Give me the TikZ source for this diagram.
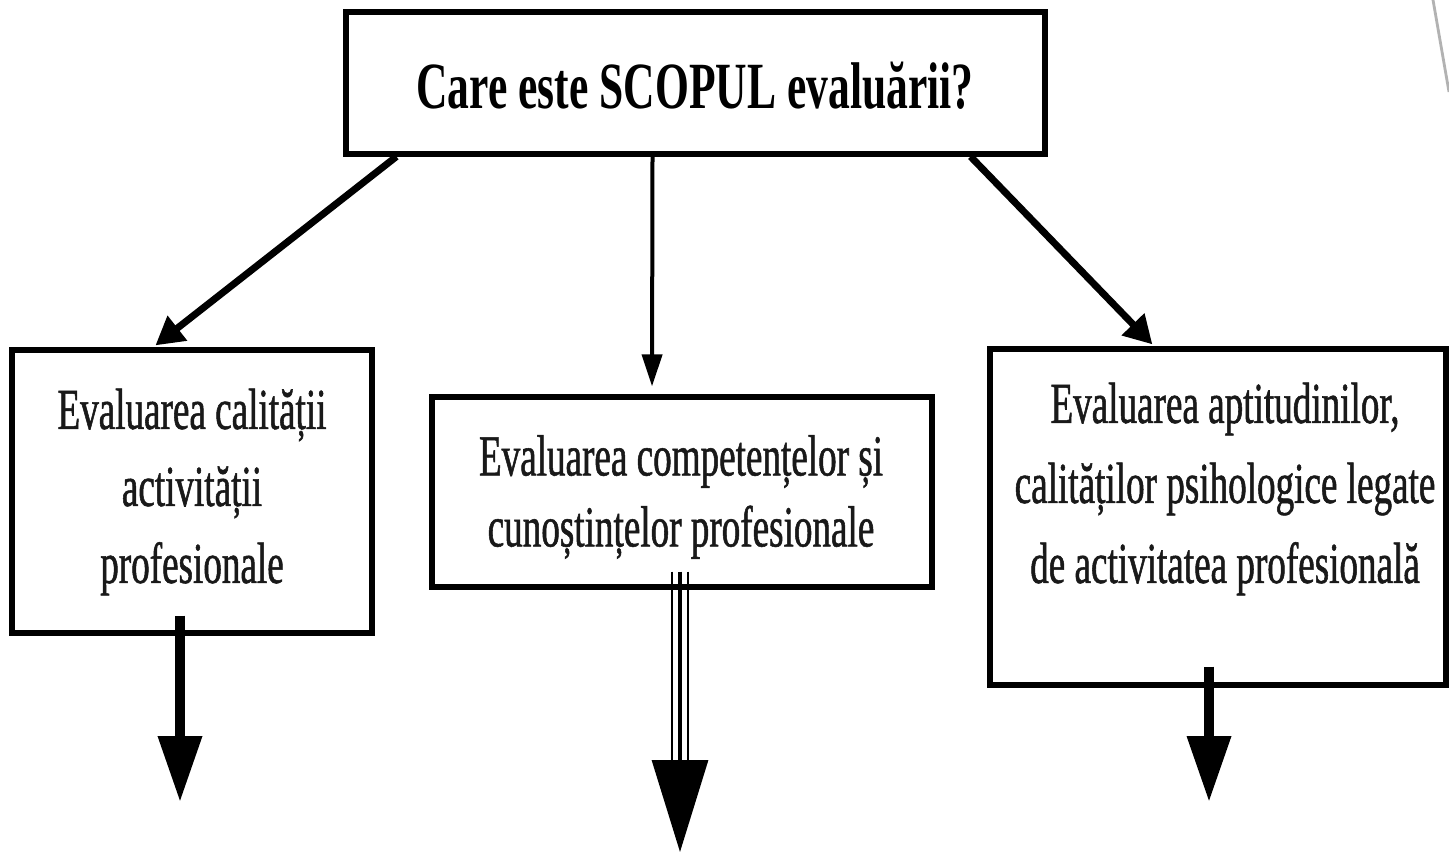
\documentclass[tikz,border=0pt]{standalone}
\usepackage{fontspec}
\setmainfont{Liberation Serif}
\newfontfamily\headfont[FakeStretch=0.66]{Liberation Serif}
\newfontfamily\bodyfont[FakeStretch=0.64, FakeBold=0.9]{Liberation Serif}
\usetikzlibrary{arrows.meta}

\tikzset{
  box/.style={draw=black, line width=2.6pt, inner sep=0pt, fill=white},
  label/.style={align=center, inner sep=0pt, text=black!90},
  link/.style={draw=black},
}

\begin{document}
\begin{tikzpicture}[x=0.5pt, y=-0.5pt]
\useasboundingbox (0,0) rectangle (1449,854);
\fill[white] (0,0) rectangle (1449,854);

% corner stroke
\draw[black!30, line width=1.4pt] (1433,0) -- (1449,92);

% frames
\node[box, minimum width=349.5pt, minimum height=71pt] (top) at (695.5,83) {};
\node[box, minimum width=180pt, minimum height=141.5pt] (left) at (192,491.5) {};
\node[box, minimum width=250pt, minimum height=95pt] (mid) at (682,492) {};
\node[box, minimum width=228pt, minimum height=168pt] (right) at (1218,517) {};

% texts
\node[label, font=\headfont\bfseries\fontsize{33}{36}\selectfont, text=black] (toptext) at (695,86)
  {Care este SCOPUL evaluării?};
\node[label, font=\bodyfont\fontsize{29}{38.5}\selectfont] (lefttext) at (192,492)
  {Evaluarea calității\\activității\\profesionale};
\node[label, font=\bodyfont\fontsize{29}{35.5}\selectfont] (midtext) at (681,497)
  {Evaluarea competențelor și\\cunoștințelor profesionale};
\node[label, font=\bodyfont\fontsize{29}{40}\selectfont] (righttext) at (1225,489)
  {Evaluarea aptitudinilor,\\calităților psihologice legate\\de activitatea profesională};

% arrows from the question to the three kinds of evaluation
\draw[link, line width=3.5pt, -{Triangle[length=14pt, width=15pt]}]
  ([xshift=26.5pt]top.south west) -- ([xshift=73pt, yshift=1pt]left.north west);
\draw[link, line width=2pt, -{Triangle[length=16pt, width=10pt]}]
  ([xshift=-21.5pt]top.south) -- ([xshift=-15pt, yshift=4pt]mid.north);
\draw[link, line width=3.5pt, -{Triangle[length=14pt, width=15pt]}]
  ([xshift=-38.5pt]top.south east) -- ([xshift=82.5pt, yshift=1pt]right.north west);

% outgoing arrows below the boxes
\coordinate (lefttip) at (180,802);
\coordinate (midtip) at (680,852);
\coordinate (midbase) at (680,760);
\coordinate (righttip) at (1209,802);

\draw[link, line width=5pt, -{Triangle[length=33pt, width=21pt]}]
  ([xshift=-6pt, yshift=10pt]left.south) -- (lefttip);
\draw[link, line width=1.6pt, -{Triangle[length=46pt, width=28pt]}]
  ([xshift=-1pt, yshift=9pt]mid.south) -- (midtip);
\draw[link, line width=1pt]
  ([xshift=-5pt, yshift=9pt]mid.south) -- ([xshift=-4pt]midbase);
\draw[link, line width=1pt]
  ([xshift=3pt, yshift=9pt]mid.south) -- ([xshift=4pt]midbase);
\draw[link, line width=5pt, -{Triangle[length=33pt, width=21pt]}]
  ([xshift=-4.5pt, yshift=10.5pt]right.south) -- (righttip);
\end{tikzpicture}
\end{document}
